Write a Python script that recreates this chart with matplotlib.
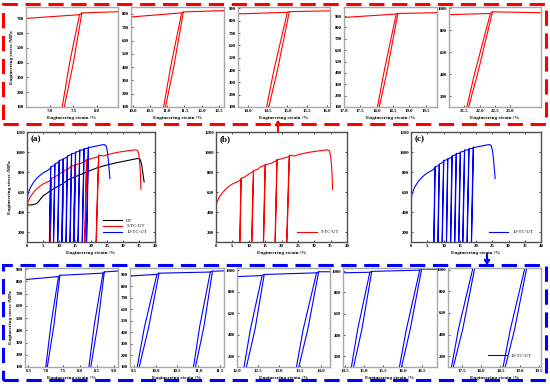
import matplotlib
matplotlib.use('Agg')
import matplotlib.pyplot as plt
from matplotlib.patches import Rectangle, FancyArrowPatch

plt.rcParams['font.family'] = ['Liberation Serif', 'DejaVu Serif']
plt.rcParams['font.size'] = 3.5

# UT (monotonic tension)
ut_strain = [0, 0.05, 0.5, 1.5, 2.5, 3.2, 4, 5, 7, 9, 11, 13, 16, 19, 22, 25, 28, 31, 33, 34.5, 35.3, 35.8, 36.2, 36.6]
ut_stress = [0, 465, 470, 472, 478, 490, 520, 560, 605, 645, 680, 725, 765, 805, 843, 870, 893, 912, 925, 935, 930, 880, 790, 700]

# 5-TC-UT envelope
tc5_strain = [0, 0.03, 0.3, 1, 2, 3, 4, 5, 6, 6.5, 7.63, 7.68, 8.45, 10.0, 11.42, 11.47, 12.65,
              13.75, 15.0, 15.05, 16.08, 17.0, 18.6, 18.65, 19.85, 21.0, 22.35, 22.42, 24.0,
              25, 27, 29, 31, 33, 34, 34.6, 35.0, 35.3, 35.5, 35.6]
tc5_stress = [0, 450, 500, 550, 595, 630, 658, 680, 695, 700, 725, 737, 745, 778, 808, 815, 825,
              855, 868, 873, 880, 888, 918, 923, 930, 942, 953, 968, 960,
              972, 988, 1000, 1010, 1018, 1022, 1012, 960, 860, 730, 625]
# 5-TC-UT unloading / reloading loops: top -> mid -> bottom, bottom -> mid -> top
tc5_top_x = [7.63, 11.42, 15.0, 18.6, 22.35]
tc5_top_y = [725, 808, 868, 918, 953]
tc5_unl_mid_x = [7.42, 11.10, 14.66, 18.22, 21.83]
tc5_bot_x = [7.24, 10.87, 14.45, 18.0, 21.55]
tc5_ret_x = [7.28, 10.92, 14.5, 18.05, 21.6]
tc5_rel_mid_x = [7.50, 11.19, 14.75, 18.31, 21.93]
tc5_ret_top_x = [7.68, 11.47, 15.05, 18.65, 22.42]
tc5_ret_top_y = [737, 815, 873, 923, 968]
tc5_mid_y = 400

# 10-TC-UT envelope
tc10_strain = [0, 0.03, 0.3, 1, 2, 3, 4, 5, 6, 6.4, 7.38, 7.42, 8.68, 8.72, 9.4, 10.03, 10.08,
               11.28, 11.33, 11.6, 12.0, 12.6, 12.65, 13.9, 13.95, 14.45, 15.15, 15.2, 16.45,
               16.5, 16.9, 17.15, 17.8, 17.85, 19.15, 19.2, 19.55, 20.5, 21.5, 22.5, 23.5,
               24.2, 24.7, 25.1, 25.4, 25.7, 25.9]
tc10_stress = [0, 520, 580, 640, 695, 735, 765, 790, 808, 815, 840, 850, 868, 878, 890, 905, 915,
               925, 932, 935, 940, 950, 960, 975, 985, 985, 990, 998, 1010,
               1020, 1018, 1020, 1025, 1032, 1038, 1048, 1045, 1052, 1058, 1065, 1072,
               1074, 1062, 1010, 920, 810, 735]
tc10_top_x = [7.38, 8.68, 10.03, 11.28, 12.6, 13.9, 15.15, 16.45, 17.8, 19.15]
tc10_top_y = [840, 868, 905, 925, 950, 975, 990, 1010, 1025, 1038]
tc10_unl_mid_x = [7.16, 8.43, 9.74, 11.03, 12.32, 13.58, 14.83, 16.10, 17.42, 18.76]
tc10_bot_x = [6.99, 8.25, 9.55, 10.87, 12.15, 13.4, 14.65, 15.9, 17.22, 18.55]
tc10_ret_x = [7.03, 8.30, 9.59, 10.91, 12.2, 13.45, 14.7, 15.95, 17.26, 18.6]
tc10_rel_mid_x = [7.25, 8.53, 9.84, 11.13, 12.43, 13.69, 14.94, 16.20, 17.53, 18.87]
tc10_ret_top_x = [7.42, 8.72, 10.08, 11.33, 12.65, 13.95, 15.2, 16.5, 17.85, 19.2]
tc10_ret_top_y = [850, 878, 915, 932, 960, 985, 998, 1020, 1032, 1048]
tc10_mid_y = 450
loop_low = 60

# zoomed panel ranges
top_xlim = [(6.49, 8.45), (9.95, 12.65), (13.75, 16.08), (17.0, 19.85), (21.0, 24.0)]
top_ylim = [(100, 777), (100, 852), (100, 911), (100, 980), (100, 1012)]
top_xticks = [[7.0, 7.5, 8.0], [10.0, 10.5, 11.0, 11.5, 12.0, 12.5], [14.0, 14.5, 15.0, 15.5, 16.0],
              [17.0, 17.5, 18.0, 18.5, 19.0, 19.5], [21.5, 22.0, 22.5, 23.0]]
top_yticks = [range(100, 701, 100), range(100, 801, 100), range(100, 901, 100),
              range(100, 901, 100), range(200, 1001, 200)]
bot_xlim = [(6.4, 9.12), (9.4, 11.6), (12.0, 14.22), (14.45, 16.9), (17.15, 19.55)]
bot_ylim = [(100, 910), (100, 960), (100, 1020), (100, 1030), (100, 1015)]
bot_xticks = [[6.5, 7.0, 7.5, 8.0, 8.5, 9.0], [9.5, 10.0, 10.5, 11.0, 11.5],
              [12.0, 12.5, 13.0, 13.5, 14.0], [14.5, 15.0, 15.5, 16.0, 16.5],
              [17.5, 18.0, 18.5, 19.0, 19.5]]
bot_yticks = [range(100, 901, 100), range(100, 901, 100), range(200, 1001, 200),
              range(200, 1001, 200), range(200, 1001, 200)]

W, H = 550, 389
fig = plt.figure(figsize=(W / 100, H / 100), dpi=100)


def add_ax(l, t, r, b):
    return fig.add_axes([l / W, 1 - b / H, (r - l) / W, (b - t) / H])


def draw_tc5(ax, label=None):
    ax.plot(tc5_strain, tc5_stress, color='red', lw=0.8, label=label)
    for i in range(len(tc5_top_x)):
        ax.plot([tc5_top_x[i], tc5_unl_mid_x[i], tc5_bot_x[i], tc5_ret_x[i], tc5_rel_mid_x[i], tc5_ret_top_x[i]],
                [tc5_top_y[i], tc5_mid_y, loop_low, loop_low, tc5_mid_y, tc5_ret_top_y[i]],
                color='red', lw=0.8)


def draw_tc10(ax, label=None):
    ax.plot(tc10_strain, tc10_stress, color='blue', lw=0.8, label=label)
    for i in range(len(tc10_top_x)):
        ax.plot([tc10_top_x[i], tc10_unl_mid_x[i], tc10_bot_x[i], tc10_ret_x[i], tc10_rel_mid_x[i], tc10_ret_top_x[i]],
                [tc10_top_y[i], tc10_mid_y, loop_low, loop_low, tc10_mid_y, tc10_ret_top_y[i]],
                color='blue', lw=0.8)


def style(ax, frame, both=False):
    for s in ax.spines.values():
        s.set_color(frame)
        s.set_linewidth(1.0)
    ax.tick_params(direction='in', length=1.5, width=0.5, pad=1.5, labelsize=3.5,
                   top=both, right=both)
    for t in ax.get_xticklabels() + ax.get_yticklabels():
        t.set_fontweight('bold')


lefts = [26, 131, 238, 344, 449]
rights = [118, 224, 330, 437, 541]
lab_kw = dict(fontsize=3.7, fontweight='bold', labelpad=2)

# top row: 5-TC-UT zooms
for i in range(5):
    ax = add_ax(lefts[i], 7, rights[i], 107)
    draw_tc5(ax)
    ax.set_xlim(*top_xlim[i])
    ax.set_ylim(*top_ylim[i])
    ax.set_xticks(top_xticks[i])
    ax.set_yticks(list(top_yticks[i]))
    ax.xaxis.set_major_formatter(matplotlib.ticker.FormatStrFormatter('%.1f'))
    ax.set_xlabel('Engineering strain /%', **lab_kw)
    if i == 0:
        ax.set_ylabel('Engineering stress /MPa', **lab_kw)
    style(ax, '#a8a8a8')

# bottom row: 10-TC-UT zooms
for i in range(5):
    ax = add_ax(lefts[i] - 1, 268, rights[i], 367)
    draw_tc10(ax, label='10-TC-UT')
    ax.set_xlim(*bot_xlim[i])
    ax.set_ylim(*bot_ylim[i])
    ax.set_xticks(bot_xticks[i])
    ax.set_yticks(list(bot_yticks[i]))
    ax.xaxis.set_major_formatter(matplotlib.ticker.FormatStrFormatter('%.1f'))
    ax.set_xlabel('Engineering strain /%', **lab_kw)
    if i == 0:
        ax.set_ylabel('Engineering stress /MPa', **lab_kw)
    if i == 4:
        ax.legend(loc='lower right', frameon=False, fontsize=3.5, handlelength=4,
                  borderaxespad=1.5)
    style(ax, '#a8a8a8')

# middle row
axa = add_ax(27, 132, 155, 242)
axa.plot(ut_strain, ut_stress, color='black', lw=0.8, label='UT')
draw_tc5(axa, label='5-TC-UT')
draw_tc10(axa, label='10-TC-UT')
axb = add_ax(216, 132, 347, 242)
draw_tc5(axb, label='5-TC-UT')
axc = add_ax(411, 132, 541, 242)
draw_tc10(axc, label='10-TC-UT')

for ax, tag in zip([axa, axb, axc], ['(a)', '(b)', '(c)']):
    ax.set_xlim(0, 40)
    ax.set_ylim(100, 1200)
    ax.set_xticks(range(0, 41, 5))
    ax.set_yticks(range(200, 1201, 200))
    ax.set_xlabel('Engineering strain /%', **lab_kw)
    ax.text(0.03, 0.97, tag, transform=ax.transAxes, ha='left', va='top',
            fontsize=6.5, fontweight='bold')
    ax.legend(loc='lower right', frameon=False, fontsize=3.5, handlelength=4,
              borderaxespad=1.2, labelspacing=0.3)
    style(ax, '#505050', both=True)
axa.set_ylabel('Engineering stress /MPa', **lab_kw)

# dashed frames and arrows
fig.patches.append(Rectangle((3 / W, 1 - 124 / H), 543 / W, 120 / H, transform=fig.transFigure,
                             fill=False, edgecolor='red', lw=2.2, linestyle=(0, (5, 2.5))))
fig.patches.append(Rectangle((3 / W, 1 - 380 / H), 543 / W, 115 / H, transform=fig.transFigure,
                             fill=False, edgecolor='blue', lw=2.2, linestyle=(0, (5, 2.5))))
fig.patches.append(FancyArrowPatch((278 / W, 1 - 134 / H), (278 / W, 1 - 117 / H),
                                   transform=fig.transFigure, color='red', lw=1.5,
                                   arrowstyle='-|>,head_length=2.5,head_width=1.6'))
fig.patches.append(FancyArrowPatch((487 / W, 1 - 251 / H), (487 / W, 1 - 268 / H),
                                   transform=fig.transFigure, color='blue', lw=1.5,
                                   arrowstyle='-|>,head_length=2.5,head_width=1.6'))

fig.savefig('out.png', dpi=100)
